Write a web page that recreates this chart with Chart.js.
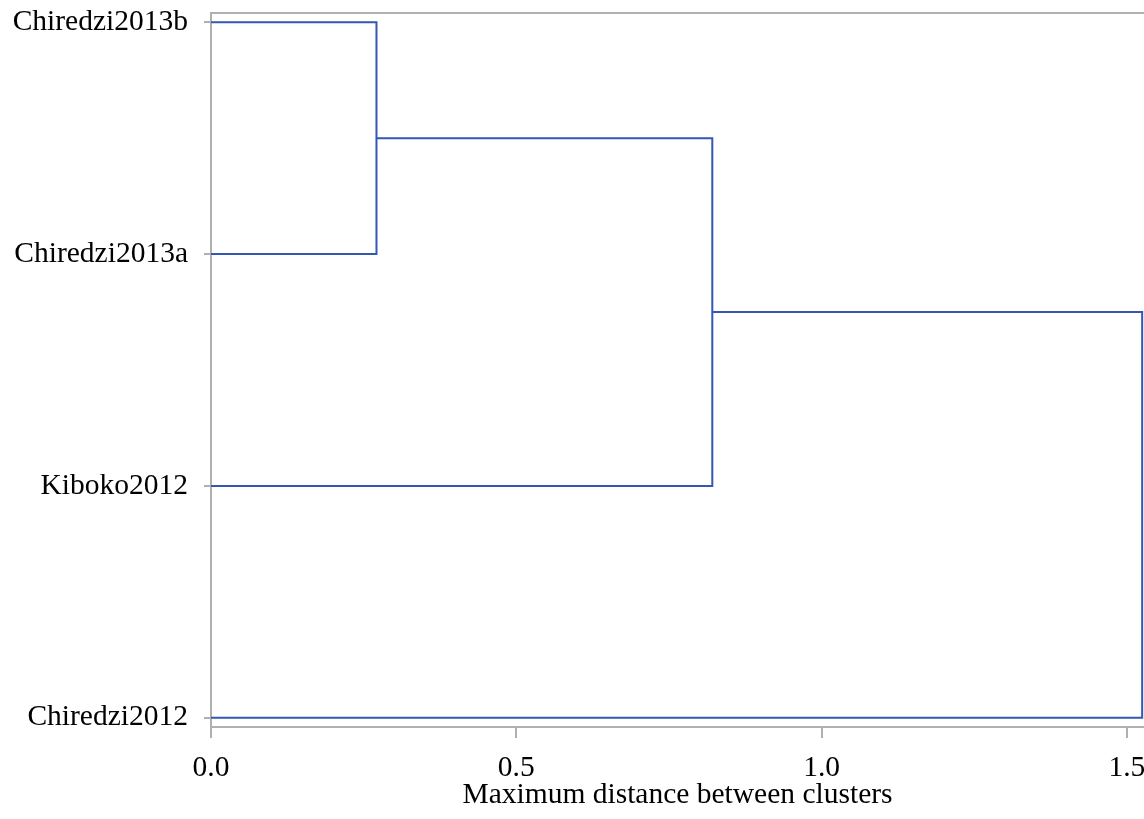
<!DOCTYPE html>
<html>
<head>
<meta charset="utf-8">
<title>Dendrogram</title>
<style>
  html, body { margin: 0; padding: 0; background: #ffffff; }
  #wrap { width: 1144px; height: 819px; position: relative; }
</style>
<script src="https://cdn.jsdelivr.net/npm/chart.js@4/dist/chart.umd.min.js"></script>
</head>
<body>
<div id="wrap"><canvas id="chart"></canvas></div>
<script>
// Leaves, listed from the bottom of the plot to the top
const leafLabels = ['Chiredzi2012', 'Kiboko2012', 'Chiredzi2013a', 'Chiredzi2013b'];
// Agglomeration steps: ids 0-3 are leaves, id 4 + k is the cluster formed at step k
const mergeLeft = [2, 1, 0];
const mergeRight = [3, 4, 5];
const mergeDistance = [0.271, 0.821, 1.525];
// Distance axis
const xTickValues = [0, 0.5, 1.0, 1.5];
const xAxisTitle = 'Maximum distance between clusters';

const LINK_COLOR = '#3557b3';
const AXIS_COLOR = '#b0b0b0';
const FONT = { family: '"Liberation Serif", "Times New Roman", serif', size: 29.5 };
const X_MIN = 0, X_MAX = 1.528;

// Node positions: leaves sit at distance 0, clusters at their merge distance,
// vertically centred between the two children.
const nodes = leafLabels.map((_, i) => ({ x: 0, y: i }));
mergeDistance.forEach((d, k) => {
  const a = nodes[mergeLeft[k]], b = nodes[mergeRight[k]];
  nodes.push({ x: d, y: (a.y + b.y) / 2 });
});

// One U-shaped link per merge
const datasets = mergeDistance.map((d, k) => {
  const a = nodes[mergeLeft[k]], b = nodes[mergeRight[k]];
  return {
    data: [
      { x: a.x, y: a.y },
      { x: d, y: a.y },
      { x: d, y: b.y },
      { x: b.x, y: b.y }
    ],
    showLine: true,
    borderColor: LINK_COLOR,
    borderWidth: 2,
    pointRadius: 0,
    pointHoverRadius: 0,
    tension: 0,
    fill: false,
    clip: false
  };
});

new Chart(document.getElementById('chart'), {
  type: 'scatter',
  data: { datasets },
  options: {
    responsive: true,
    maintainAspectRatio: false,
    animation: false,
    devicePixelRatio: 1,
    layout: { padding: { top: 13, left: 10, right: 0, bottom: 0 } },
    plugins: { legend: { display: false }, tooltip: { enabled: false } },
    scales: {
      x: {
        type: 'linear',
        position: 'bottom',
        min: X_MIN,
        max: X_MAX,
        afterBuildTicks: s => { s.ticks = xTickValues.map(v => ({ value: v })); },
        afterFit: s => { s.height = 92; s.paddingLeft = 0; s.paddingRight = 0; },
        ticks: {
          callback: v => Number(v).toFixed(1),
          color: '#000000',
          font: FONT,
          padding: 13,
          maxRotation: 0
        },
        grid: {
          drawOnChartArea: false,
          drawTicks: true,
          tickLength: 11,
          color: AXIS_COLOR,
          lineWidth: 2
        },
        border: { display: true, color: AXIS_COLOR, width: 2 },
        title: {
          display: true,
          text: xAxisTitle,
          color: '#000000',
          font: FONT,
          padding: { top: 0, bottom: 6 }
        }
      },
      xTop: {
        type: 'linear',
        axis: 'x',
        position: 'top',
        min: X_MIN,
        max: X_MAX,
        afterFit: s => { s.height = 0; s.paddingLeft = 0; s.paddingRight = 0; },
        ticks: { display: false },
        grid: { display: false, drawTicks: false },
        border: { display: true, color: AXIS_COLOR, width: 2 }
      },
      y: {
        type: 'linear',
        position: 'left',
        min: -0.04,
        max: 3.04,
        afterBuildTicks: s => { s.ticks = leafLabels.map((_, i) => ({ value: i })); },
        afterFit: s => { s.width = 201; s.paddingTop = 0; s.paddingBottom = 0; },
        ticks: {
          callback: v => leafLabels[v] ?? '',
          color: '#000000',
          font: FONT,
          padding: 16
        },
        grid: {
          drawOnChartArea: false,
          drawTicks: true,
          tickLength: 7,
          color: AXIS_COLOR,
          lineWidth: 2
        },
        border: { display: true, color: AXIS_COLOR, width: 2 }
      }
    }
  }
});
</script>
</body>
</html>
